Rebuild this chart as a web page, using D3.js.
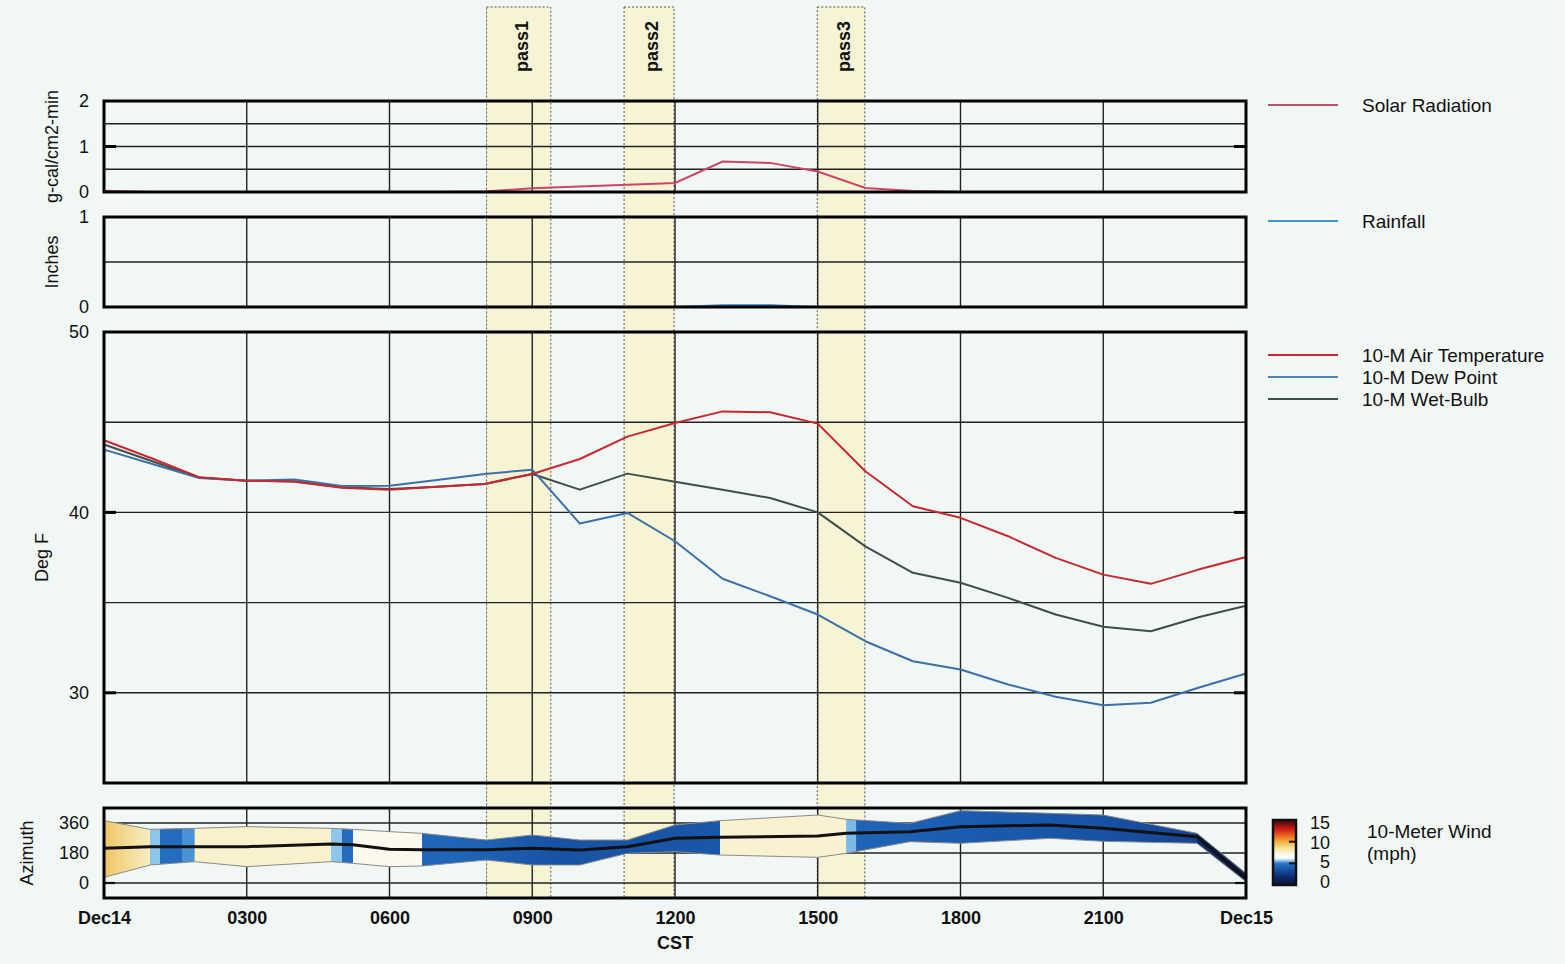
<!DOCTYPE html>
<html><head><meta charset="utf-8">
<script src="https://cdn.jsdelivr.net/npm/d3@7"></script>
<style>
body{margin:0;background:#f1f7f5;}
svg{display:block;font-family:"Liberation Sans",Arial,Helvetica,sans-serif;}
</style>
</head><body>
<svg id="chart" width="1565" height="964"></svg>
<script>
// ---------------- DATA ----------------
const hours = [0,1,2,3,4,5,6,7,8,9,10,11,12,13,14,15,16,17,18,19,20,21,22,23,24];
const xTickHours = [0,3,6,9,12,15,18,21,24];
const xTickLabels = ["Dec14","0300","0600","0900","1200","1500","1800","2100","Dec15"];

const solarRadiation = [0.03,0,0,0,0,0,0,0,0.01,0.08,0.12,0.16,0.2,0.67,0.64,0.45,0.09,0.02,0,0,0,0,0,0,0];
const rainfall = [0,0,0,0,0,0,0,0,0,0,0,0,0,0.02,0.02,0,0,0,0,0,0,0,0,0,0];

const airTemp = [44.0,43.0,41.95,41.76,41.7,41.36,41.26,41.42,41.58,42.13,42.96,44.2,44.96,45.6,45.55,44.92,42.28,40.34,39.7,38.68,37.48,36.55,36.04,36.83,37.53];
const dewPoint = [43.48,42.7,41.91,41.76,41.82,41.47,41.48,41.8,42.13,42.37,39.38,39.97,38.4,36.32,35.35,34.34,32.86,31.75,31.29,30.46,29.78,29.31,29.45,30.28,31.07];
const wetBulb = [43.76,42.85,41.93,41.76,41.73,41.39,41.3,41.42,41.58,42.13,41.26,42.15,41.7,41.26,40.8,40.0,38.12,36.65,36.1,35.26,34.34,33.66,33.41,34.19,34.83];

const windTime = [0,0.97,1.9,3,4.77,5.23,6,6.68,8.04,9,10,11,12,12.95,15,15.6,16.94,18,19.88,21,22.97,24];
const windDir  = [208,218,218,218,234,230,202,200,200,208,198,218,268,274,282,298,308,338,348,328,278,28];
const windHi   = [374,322,328,338,328,322,308,298,258,288,258,258,348,374,408,382,358,434,418,408,298,58];
const windLo   = [34,108,128,98,128,118,98,102,138,108,108,178,188,168,154,178,248,238,268,250,238,8];

const speedTime = [0,0.97,0.975,1.18,1.185,1.64,1.645,1.9,1.905,4.77,4.775,5.0,5.005,5.23,5.235,6.68,6.685,8.0,9.5,12.95,12.955,15.6,15.605,15.81,15.815,18,21,22.97,22.975,24];
const windSpeed = [9.4,7.8,5.6,5.6,4.6,4.6,5.2,5.2,7.6,7.6,5.6,5.6,4.6,4.6,7.0,7.0,4.4,4.2,3.6,3.8,7.5,7.5,5.5,5.5,4.3,4.0,3.6,3.0,1.8,1.5];

const passStart = [8.04,10.93,14.99];
const passEnd   = [9.39,11.98,15.99];
const passLabels = ["pass1","pass2","pass3"];

const speedTicks = [0,5,10,15];

// ---------------- SETUP ----------------
const svg = d3.select("#chart");
const W = 1565, H = 964;
svg.append("rect").attr("width",W).attr("height",H).attr("fill","#f1f7f5");

const xL = 104, xR = 1246;
const x = d3.scaleLinear().domain([0,24]).range([xL,xR]);

const panels = {
  solar: {top:101, bot:192, y: d3.scaleLinear().domain([0,2]).range([192,101]), grid:[0.5,1,1.5], ticks:[0,1,2], major:[1], title:"g-cal/cm2-min", tx:52},
  rain:  {top:217, bot:307, y: d3.scaleLinear().domain([0,1]).range([307,217]), grid:[0.5], ticks:[0,1], major:[], title:"Inches", tx:52},
  temp:  {top:332, bot:783, y: d3.scaleLinear().domain([25,50]).range([783,332]), grid:[30,35,40,45], ticks:[30,40,50], major:[30,40], title:"Deg F", tx:42},
  wind:  {top:808, bot:898, y: d3.scaleLinear().domain([-90,450]).range([898,808]), grid:[0,180,360], ticks:[0,180,360], major:[], title:"Azimuth", tx:27}
};

const defs = svg.append("defs");

// ---------------- PASS BANDS ----------------
const passG = svg.append("g");
passStart.forEach((s,i)=>{
  passG.append("rect")
    .attr("x", x(s)).attr("y", 7)
    .attr("width", x(passEnd[i]) - x(s)).attr("height", 898-7)
    .attr("fill","#f6f4d4")
    .attr("stroke","#555").attr("stroke-width",1).attr("stroke-dasharray","2,2");
  passG.append("text")
    .attr("transform",`translate(${(x(s)+x(passEnd[i]))/2 + 9},72) rotate(-90)`)
    .attr("font-size",18).attr("font-weight","bold").attr("fill","#111")
    .text(passLabels[i]);
});

// ---------------- GRIDS ----------------
const gridHours = [3,6,9,12,15,18,21];
Object.values(panels).forEach(p=>{
  const g = svg.append("g").attr("stroke","#222").attr("stroke-width",1.4);
  gridHours.forEach(h=> g.append("line").attr("x1",x(h)).attr("x2",x(h)).attr("y1",p.top).attr("y2",p.bot));
  p.grid.forEach(v=> g.append("line").attr("x1",xL).attr("x2",xR).attr("y1",p.y(v)).attr("y2",p.y(v)));
});

// ---------------- SOLAR / RAIN ----------------
const solarLine = d3.line().x((d,i)=>x(hours[i])).y(d=>panels.solar.y(d));
svg.append("path").datum(solarRadiation).attr("d",solarLine)
  .attr("fill","none").attr("stroke","#cc4466").attr("stroke-width",2);

const rainLine = d3.line().x((d,i)=>x(hours[i])).y(d=>panels.rain.y(d));
svg.append("path").datum(rainfall).attr("d",rainLine)
  .attr("fill","none").attr("stroke","#2a78c0").attr("stroke-width",2);

// ---------------- TEMPERATURES ----------------
const tLine = d3.line().x((d,i)=>x(hours[i])).y(d=>panels.temp.y(d));
[[wetBulb,"#3e4f4a"],[dewPoint,"#3c70a8"],[airTemp,"#c8282e"]].forEach(([arr,c])=>{
  svg.append("path").datum(arr).attr("d",tLine)
    .attr("fill","none").attr("stroke",c).attr("stroke-width",2).attr("stroke-linejoin","round");
});

// ---------------- WIND ----------------
const speedColor = d3.scaleLinear()
  .domain([0,2,4,5,5.6,6.2,7,8.5,10,11.5,13,15])
  .range(["#0a1238","#0f2c70","#1a5cb0","#2a78c8","#8cc6ea","#ffffff","#fbf9ec","#f3e49c","#f0b040","#e86020","#c81818","#3a0606"]);

const grad = defs.append("linearGradient").attr("id","spd")
  .attr("gradientUnits","userSpaceOnUse")
  .attr("x1",x(0)).attr("x2",x(24)).attr("y1",0).attr("y2",0);
speedTime.forEach((t,i)=>{
  grad.append("stop").attr("offset",t/24).attr("stop-color",speedColor(windSpeed[i]));
});

defs.append("clipPath").attr("id","windClip").append("rect")
  .attr("x",xL).attr("y",panels.wind.top).attr("width",xR-xL).attr("height",panels.wind.bot-panels.wind.top);

const wy = panels.wind.y;
const wg = svg.append("g").attr("clip-path","url(#windClip)");
const band = d3.area().x((d,i)=>x(windTime[i])).y0((d,i)=>wy(windLo[i])).y1((d,i)=>wy(windHi[i]));
wg.append("path").datum(windTime).attr("d",band).attr("fill","url(#spd)");
const edgeHi = d3.line().x((d,i)=>x(windTime[i])).y((d,i)=>wy(windHi[i]));
const edgeLo = d3.line().x((d,i)=>x(windTime[i])).y((d,i)=>wy(windLo[i]));
wg.append("path").datum(windTime).attr("d",edgeHi).attr("fill","none").attr("stroke","#8a8a8a").attr("stroke-width",1);
wg.append("path").datum(windTime).attr("d",edgeLo).attr("fill","none").attr("stroke","#8a8a8a").attr("stroke-width",1);
const dirLine = d3.line().x((d,i)=>x(windTime[i])).y(d=>wy(d));
wg.append("path").datum(windDir).attr("d",dirLine).attr("fill","none").attr("stroke","#111").attr("stroke-width",3).attr("stroke-linejoin","round");

// wind minor ticks every 45 deg, both sides
const azMinor = wy.ticks(12).filter(v=>v%45===0 && v>-90 && v<450);
const tg = svg.append("g").attr("stroke","#111").attr("stroke-width",2.2);
azMinor.forEach(v=>{
  tg.append("line").attr("x1",xL).attr("x2",xL+11).attr("y1",wy(v)).attr("y2",wy(v));
  tg.append("line").attr("x1",xR-11).attr("x2",xR).attr("y1",wy(v)).attr("y2",wy(v));
});

// ---------------- BORDERS, TICKS, LABELS ----------------
Object.values(panels).forEach(p=>{
  svg.append("rect").attr("x",xL).attr("y",p.top).attr("width",xR-xL).attr("height",p.bot-p.top)
    .attr("fill","none").attr("stroke","#000").attr("stroke-width",3);
  p.major.forEach(v=>{
    svg.append("line").attr("x1",xL).attr("x2",xL+12).attr("y1",p.y(v)).attr("y2",p.y(v)).attr("stroke","#000").attr("stroke-width",3);
    svg.append("line").attr("x1",xR-12).attr("x2",xR).attr("y1",p.y(v)).attr("y2",p.y(v)).attr("stroke","#000").attr("stroke-width",3);
  });
  const ax = d3.axisLeft(p.y).tickValues(p.ticks).tickFormat(d3.format("d")).tickSize(0).tickPadding(15);
  const ag = svg.append("g").attr("transform",`translate(${xL},0)`).call(ax);
  ag.select(".domain").remove();
  ag.selectAll("text").attr("font-size",18).attr("font-family","Liberation Sans, Arial, sans-serif").attr("fill","#111");
  svg.append("text")
    .attr("transform",`translate(${p.tx},${(p.top+p.bot)/2}) rotate(-90)`)
    .attr("text-anchor","middle").attr("dominant-baseline","central")
    .attr("font-size",18).attr("fill","#111").text(p.title);
});

// x axis
const xAxis = d3.axisBottom(x).tickValues(xTickHours).tickFormat((d,i)=>xTickLabels[i]).tickSize(0).tickPadding(13);
const xg = svg.append("g").attr("transform",`translate(0,${panels.wind.bot})`).call(xAxis);
xg.select(".domain").remove();
xg.selectAll("text").attr("font-size",18).attr("font-weight","bold").attr("font-family","Liberation Sans, Arial, sans-serif").attr("fill","#111");
svg.append("text").attr("x",x(12)).attr("y",943).attr("text-anchor","middle").attr("dominant-baseline","central")
  .attr("font-size",18).attr("font-weight","bold").attr("fill","#111").text("CST");

// ---------------- LEGENDS ----------------
const legendItems = [
  {label:"Solar Radiation", color:"#c05068", y:105},
  {label:"Rainfall", color:"#3a9cd0", y:221},
  {label:"10-M Air Temperature", color:"#c8282e", y:355},
  {label:"10-M Dew Point", color:"#4a86b8", y:377},
  {label:"10-M Wet-Bulb", color:"#3e4f4a", y:399}
];
legendItems.forEach(d=>{
  svg.append("line").attr("x1",1268).attr("x2",1338).attr("y1",d.y).attr("y2",d.y).attr("stroke",d.color).attr("stroke-width",2.2);
  svg.append("text").attr("x",1362).attr("y",d.y).attr("dominant-baseline","central")
    .attr("font-size",19).attr("fill","#111").text(d.label);
});

// colorbar
const cb = d3.scaleLinear().domain([0,15]).range([885,820]);
const cbGrad = defs.append("linearGradient").attr("id","cbg").attr("x1",0).attr("x2",0).attr("y1",1).attr("y2",0);
d3.range(0,15.01,0.25).forEach(v=>{
  cbGrad.append("stop").attr("offset",v/15).attr("stop-color",speedColor(v));
});
svg.append("rect").attr("x",1273).attr("y",cb(15)).attr("width",23).attr("height",cb(0)-cb(15))
  .attr("fill","url(#cbg)").attr("stroke","#111").attr("stroke-width",2.5);
[5,10].forEach(v=>{
  svg.append("line").attr("x1",1289).attr("x2",1296).attr("y1",cb(v)).attr("y2",cb(v)).attr("stroke","#111").attr("stroke-width",2);
});
const cbLabelY = d3.scaleLinear().domain([0,15]).range([882,823]);
speedTicks.forEach(v=>{
  svg.append("text").attr("x",1330).attr("y",cbLabelY(v)).attr("text-anchor","end").attr("dominant-baseline","central")
    .attr("font-size",18).attr("fill","#111").text(v);
});
svg.append("text").attr("x",1367).attr("y",831).attr("dominant-baseline","central").attr("font-size",19).attr("fill","#111").text("10-Meter Wind");
svg.append("text").attr("x",1367).attr("y",853).attr("dominant-baseline","central").attr("font-size",19).attr("fill","#111").text("(mph)");
</script>
</body></html>
